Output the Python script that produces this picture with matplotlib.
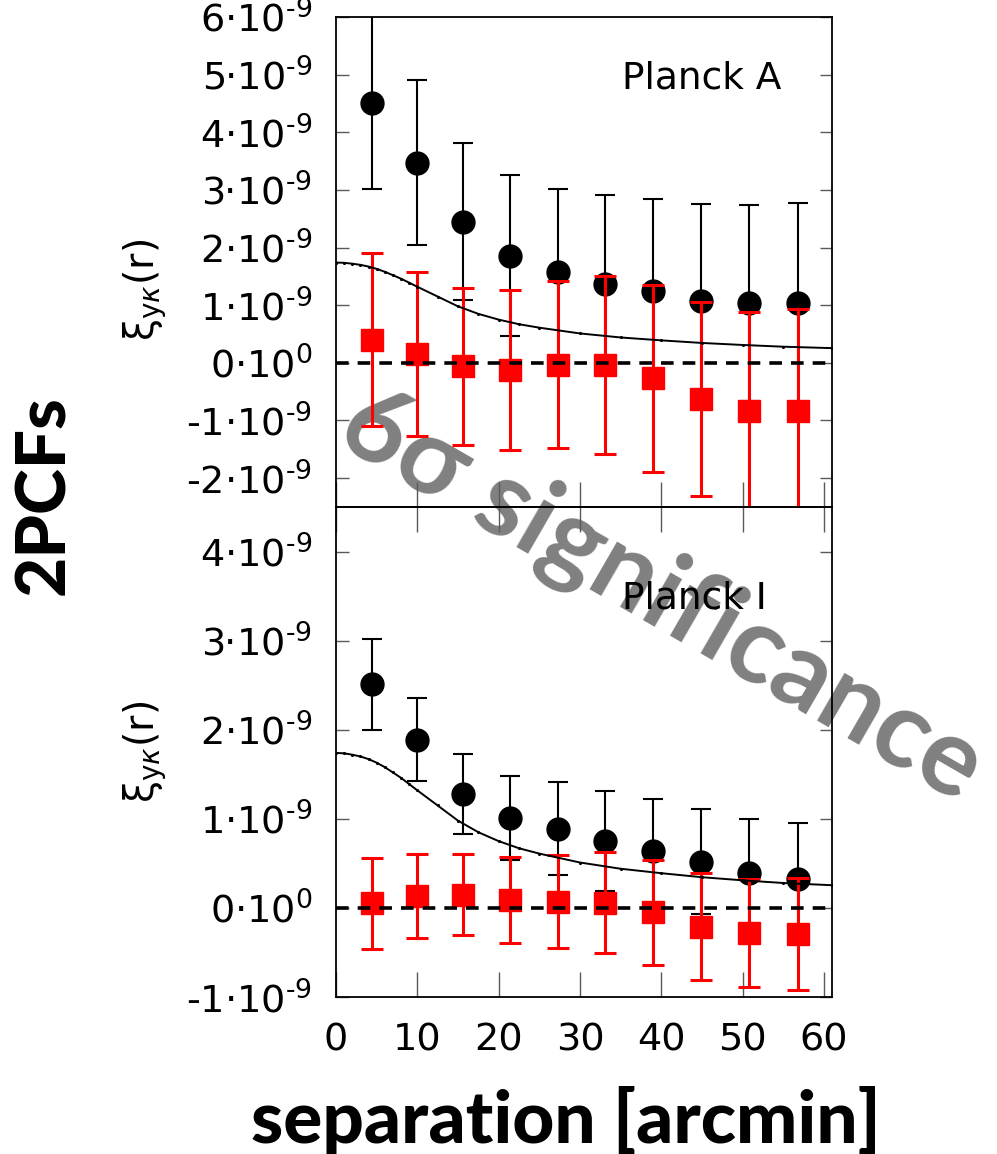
import numpy as np
import matplotlib.pyplot as plt

# angular separation of the bins [arcmin]
sep = [4.4, 10.0, 15.6, 21.4, 27.3, 33.1, 39.0, 44.9, 50.8, 56.8]

# Planck A: y-kappa cross correlation (black) and null test (red), units of 1e-9
xi_A = [4.51, 3.47, 2.45, 1.86, 1.57, 1.37, 1.24, 1.08, 1.04, 1.03]
err_A = [1.50, 1.43, 1.36, 1.40, 1.45, 1.55, 1.60, 1.68, 1.70, 1.75]
null_A = [0.40, 0.15, -0.06, -0.12, -0.03, -0.04, -0.27, -0.63, -0.83, -0.84]
nerr_A = [1.50, 1.42, 1.36, 1.39, 1.45, 1.55, 1.62, 1.68, 1.72, 1.78]

# Planck I
xi_I = [2.51, 1.89, 1.28, 1.01, 0.89, 0.75, 0.64, 0.52, 0.39, 0.32]
err_I = [0.51, 0.47, 0.45, 0.47, 0.52, 0.56, 0.58, 0.59, 0.61, 0.63]
null_I = [0.05, 0.13, 0.15, 0.09, 0.07, 0.06, -0.05, -0.21, -0.28, -0.29]
nerr_I = [0.51, 0.47, 0.45, 0.48, 0.52, 0.57, 0.59, 0.60, 0.61, 0.63]

# halo model prediction (same in both panels)
r_mod = [0, 1, 2, 3, 4, 5, 6, 7, 8, 9, 10, 12.5, 15, 17.5, 20, 22.5, 25,
         30, 35, 40, 45, 50, 55, 61]
xi_mod = [1.74, 1.735, 1.72, 1.70, 1.67, 1.63, 1.58, 1.52, 1.46, 1.39, 1.32,
          1.15, 0.98, 0.85, 0.75, 0.67, 0.61, 0.51, 0.44, 0.39, 0.345, 0.31,
          0.28, 0.255]

yticks_A = [-2, -1, 0, 1, 2, 3, 4, 5, 6]
yticks_I = [-1, 0, 1, 2, 3, 4]
xticks = [0, 10, 20, 30, 40, 50, 60]


def ylab(v):
    if v == 0:
        return '0·10$^{\\text{0}}$'
    return '%d·10$^{\\text{-9}}$' % v


fig = plt.figure(figsize=(9.97, 11.54), dpi=100)
axA = fig.add_axes([0.337, 0.5607, 0.4975, 0.4246])
axI = fig.add_axes([0.337, 0.136, 0.4975, 0.4247])

panels = [(axA, xi_A, err_A, null_A, nerr_A, (-2.5, 6.0), yticks_A, 'Planck A', 0.855, 0.443),
          (axI, xi_I, err_I, null_I, nerr_I, (-1.0, 4.5), yticks_I, 'Planck I', 0.792, 0.50)]

s = 1e-9
for ax, xi, er, nl, ne, ylim, yt, name, ty, ly in panels:
    ax.set_facecolor('none')
    ax.errorbar(sep, np.array(xi) * s, yerr=np.array(er) * s, fmt='o', color='black',
                ms=16.5, elinewidth=1.5, capsize=7, capthick=1.5, zorder=3)
    ax.errorbar(sep, np.array(nl) * s, yerr=np.array(ne) * s, fmt='s', color='red',
                ms=15.5, elinewidth=2.2, capsize=8, capthick=2.2, zorder=4)
    ax.plot(r_mod, np.array(xi_mod) * s, '-', color='black', lw=1.4, marker='.',
            ms=2.5, zorder=5)
    ax.axhline(0, color='black', ls=(0, (3.5, 2.5)), lw=2.6, zorder=6)
    ax.set_xlim(0, 61)
    ax.set_ylim(ylim[0] * s, ylim[1] * s)
    ax.set_yticks([v * s for v in yt])
    ax.set_yticklabels([ylab(v) for v in yt])
    ax.set_xticks(xticks)
    ax.tick_params(axis='y', direction='in', length=9, width=1, color='0.35',
                   labelsize=27.5, pad=17, right=True)
    ax.tick_params(axis='x', direction='in', length=18, width=1, color='0.35',
                   labelsize=27.5, pad=18)
    for sp in ax.spines.values():
        sp.set_linewidth(1.3)
    ax.text(0.577, ty, name, transform=ax.transAxes, fontsize=27, ha='left',
            va='baseline', zorder=7)
    ax.set_ylabel('ξ$_{\\mathrm{y}\\kappa}$(r)', fontsize=28.5)
    ax.yaxis.set_label_coords(-0.385, ly)
    ax.yaxis.label.set_va('center')

axA.tick_params(axis='x', labelbottom=False, top=False)
axI.tick_params(axis='x', top=True)

fig.text(0.045, 0.571, '2PCFs', rotation=90, fontsize=50, fontweight='black',
         family=['Lato', 'DejaVu Sans'], ha='center', va='center')
fig.text(0.568, 0.0095, 'separation [arcmin]', fontsize=52.5, fontweight='black',
         family=['Lato', 'DejaVu Sans'], ha='center', va='baseline')

# watermark behind the panels
fig.text(0.664, 0.484, '6σ significance', rotation=-30, fontsize=78,
         fontweight='bold', color='#808080', family=['Lato', 'DejaVu Sans'],
         ha='center', va='center', rotation_mode='anchor', zorder=-1)

fig.savefig('out.png', dpi=100)
